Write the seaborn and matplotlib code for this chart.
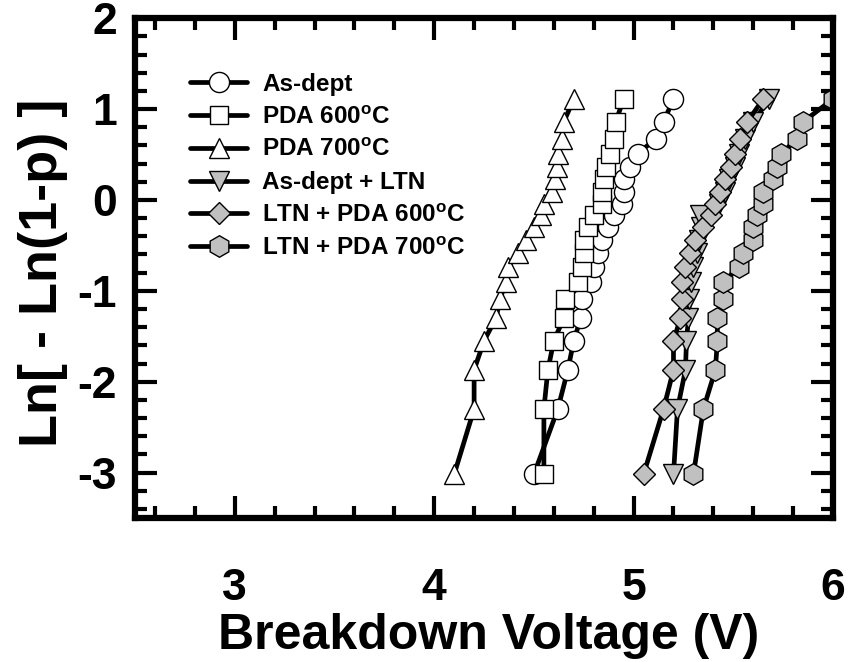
import matplotlib
matplotlib.use("Agg")
import matplotlib.pyplot as plt
from matplotlib.ticker import MultipleLocator
import seaborn as sns

# Weibull plotting positions, Ln[-Ln(1-p)], shared by all six samples
weibull_y = [-3.02, -2.30, -1.87, -1.55, -1.30, -1.09, -0.90, -0.74, -0.58, -0.44,
             -0.30, -0.17, -0.04, 0.09, 0.23, 0.36, 0.51, 0.67, 0.86, 1.11]

# Breakdown voltages (V) for each sample
as_dept = [4.50, 4.62, 4.67, 4.70, 4.735, 4.74, 4.785, 4.80, 4.82, 4.84,
           4.87, 4.90, 4.94, 4.95, 4.95, 4.98, 5.02, 5.11, 5.15, 5.20]
pda_600 = [4.55, 4.55, 4.57, 4.60, 4.65, 4.655, 4.72, 4.74, 4.75, 4.75,
           4.77, 4.80, 4.84, 4.84, 4.85, 4.86, 4.88, 4.90, 4.91, 4.95]
pda_700 = [4.10, 4.20, 4.20, 4.25, 4.31, 4.33, 4.36, 4.37, 4.42, 4.46,
           4.50, 4.535, 4.55, 4.59, 4.605, 4.615, 4.62, 4.64, 4.65, 4.70]
as_dept_ltn = [5.20, 5.22, 5.26, 5.265, 5.275, 5.28, 5.29, 5.30, 5.32, 5.33,
               5.34, 5.335, 5.43, 5.46, 5.48, 5.51, 5.53, 5.56, 5.60, 5.68]
ltn_pda_600 = [5.05, 5.15, 5.20, 5.20, 5.235, 5.245, 5.245, 5.26, 5.285, 5.31,
               5.35, 5.39, 5.41, 5.435, 5.46, 5.49, 5.51, 5.535, 5.57, 5.65]
ltn_pda_700 = [5.30, 5.35, 5.41, 5.42, 5.42, 5.45, 5.45, 5.53, 5.55, 5.60,
               5.60, 5.62, 5.65, 5.65, 5.70, 5.72, 5.74, 5.82, 5.85, 6.00]

labels = ["As-dept", r"PDA 600$^{\mathbf{o}}$C", r"PDA 700$^{\mathbf{o}}$C",
          "As-dept + LTN", r"LTN + PDA 600$^{\mathbf{o}}$C", r"LTN + PDA 700$^{\mathbf{o}}$C"]
series = [as_dept, pda_600, pda_700, as_dept_ltn, ltn_pda_600, ltn_pda_700]
markers = ["o", "s", "^", "v", "D", "h"]
msizes = [14.5, 12.5, 14.5, 14.5, 11.5, 15.5]
faces = ["white", "white", "white", "#c0c0c0", "#c0c0c0", "#c0c0c0"]

sns.set_style("ticks")
plt.rcParams["font.family"] = ["Liberation Sans", "DejaVu Sans"]
plt.rcParams["font.weight"] = "bold"
plt.rcParams["mathtext.fontset"] = "custom"
plt.rcParams["mathtext.rm"] = "Liberation Sans:bold"
plt.rcParams["mathtext.bf"] = "Liberation Sans:bold"
plt.rcParams["axes.unicode_minus"] = False
for key in ["text.color", "axes.labelcolor", "xtick.color", "ytick.color", "axes.edgecolor"]:
    plt.rcParams[key] = "black"

fig = plt.figure(figsize=(8.5, 6.62), dpi=100)
ax = fig.add_axes([0.159, 0.2175, 0.821, 0.755])

for xs, lab, mk, ms, fc in zip(series, labels, markers, msizes, faces):
    sns.lineplot(x=xs, y=weibull_y, ax=ax, sort=False, estimator=None,
                 color="black", linewidth=3.4, marker=mk, markersize=ms,
                 markerfacecolor=fc, markeredgecolor="black",
                 markeredgewidth=1.0, label=lab)

ax.set_xlim(2.5, 6.0)
ax.set_ylim(-3.5, 2.0)
ax.xaxis.set_major_locator(MultipleLocator(1))
ax.xaxis.set_minor_locator(MultipleLocator(0.2))
ax.yaxis.set_major_locator(MultipleLocator(1))
ax.yaxis.set_minor_locator(MultipleLocator(0.2))

ax.tick_params(which="both", direction="in", top=True, right=True, width=3)
ax.tick_params(which="major", length=16)
ax.tick_params(which="minor", length=8.5)
ax.tick_params(axis="x", which="major", pad=36, labelsize=32)
ax.tick_params(axis="y", which="major", pad=13, labelsize=32)
for lbl in ax.get_xticklabels() + ax.get_yticklabels():
    lbl.set_fontweight("bold")
for sp in ax.spines.values():
    sp.set_linewidth(4.5)

ax.set_xlabel("Breakdown Voltage (V)", fontsize=36, fontweight="bold")
ax.xaxis.set_label_coords(0.507, -0.19)
ax.set_ylabel("Ln[ - Ln(1-p) ]", fontsize=39, fontweight="bold")
ax.yaxis.set_label_coords(-0.096, 0.49)

leg = ax.legend(loc="upper left", bbox_to_anchor=(0.065, 0.91), frameon=False,
                fontsize=17.5, handlelength=2.35, handletextpad=0.6,
                labelspacing=0.4, borderaxespad=0)
for t in leg.get_texts():
    t.set_fontweight("bold")

fig.savefig("out.png", dpi=100)
